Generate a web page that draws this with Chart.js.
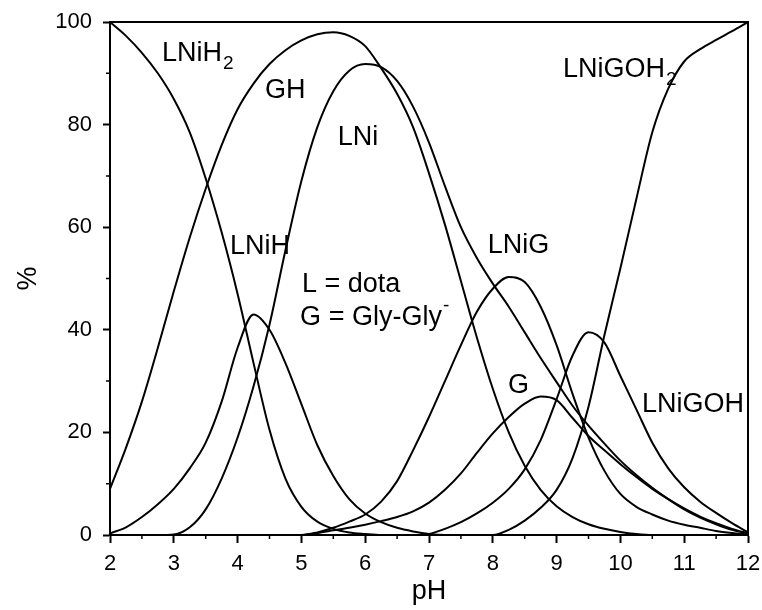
<!DOCTYPE html>
<html>
<head>
<meta charset="utf-8">
<script src="https://cdn.jsdelivr.net/npm/chart.js@4.4.1/dist/chart.umd.min.js"></script>
<style>
html, body { margin: 0; padding: 0; background: #fff; }
</style>
</head>
<body>
<canvas id="speciation" width="762" height="610"></canvas>
<script>
const FONT = "'Liberation Sans', Arial, Helvetica, sans-serif";

// pH grid the curves were read on
const pH = [2.0, 2.25, 2.5, 2.75, 3.0, 3.25, 3.5, 3.75, 4.0, 4.25, 4.5, 4.75, 5.0, 5.25, 5.5, 5.75,
            6.0, 6.25, 6.5, 6.75, 7.0, 7.25, 7.5, 7.75, 8.0, 8.25, 8.5, 8.75, 9.0, 9.25, 9.5, 9.75,
            10.0, 10.25, 10.5, 10.75, 11.0, 11.25, 11.5, 11.75, 12.0];

// % of each species
const LNiH2 = [100, 97.3, 94, 90, 85, 78.5, 69.5, 59, 47, 33.5, 20.5, 11, 5.5, 2.6, 1.2, 0.5,
               0.2, 0, 0, 0, 0, 0, 0, 0, 0, 0, 0, 0, 0, 0, 0, 0,
               0, 0, 0, 0, 0, 0, 0, 0, 0];
const GH = [9, 17, 26, 36.5, 47.5, 58, 67.5, 76, 83, 88, 91.8, 94.5, 96.4, 97.6, 98, 97.3,
            95.3, 91, 86, 79.5, 70.5, 60.5, 49.5, 38.5, 28.5, 20, 13.5, 8.8, 5.6, 3.5, 2.1, 1.2,
            0.6, 0.2, 0, 0, 0, 0, 0, 0, 0];
const LNi = [0, 0, 0, 0, 0.1, 1.5, 5, 11, 19, 29, 41, 55.5, 69, 79.5, 86.5, 90.5,
             91.8, 91.2, 88.5, 83.5, 76.5, 68, 60, 54, 49, 44.5, 39.5, 34.5, 29.8, 25.2, 21.3, 17.8,
             14.5, 11.7, 9.2, 7, 5, 3.4, 2.1, 1.0, 0.3];
const LNiH = [0.3, 1.5, 3.5, 6, 9, 13, 18, 26, 36.5, 43, 40, 33.5, 25.5, 17.5, 11.5, 7,
              4.2, 2.5, 1.4, 0.7, 0.2, 0, 0, 0, 0, 0, 0, 0, 0, 0, 0, 0,
              0, 0, 0, 0, 0, 0, 0, 0, 0];
const LNiG = [0, 0, 0, 0, 0, 0, 0, 0, 0, 0, 0, 0, 0, 0.5, 1.4, 2.6,
              4.0, 6.5, 10.5, 16.5, 23, 30, 37, 43.5, 48, 50.3, 49.3, 44.5, 37, 27.5, 19, 12.5,
              8, 5.5, 4, 2.8, 2, 1.4, 0.8, 0.4, 0.1];
const G = [0, 0, 0, 0, 0, 0, 0, 0, 0, 0, 0, 0, 0, 0.4, 0.9, 1.4,
           2.0, 2.7, 3.5, 4.6, 6.3, 8.8, 12, 16, 19.8, 23, 25.6, 27, 26.3, 22.8, 19.3, 16.5,
           13.8, 11.3, 9, 7, 5.2, 3.6, 2.3, 1.2, 0.3];
const LNiGOH = [0, 0, 0, 0, 0, 0, 0, 0, 0, 0, 0, 0, 0, 0, 0, 0,
                0, 0, 0, 0, 0.2, 1.2, 2.5, 4.2, 6.3, 9, 12.8, 18.5, 26.5, 35, 39.5, 37.5,
                31, 24.5, 18, 13, 9.3, 6.5, 4.3, 2.3, 0.5];
const LNiGOH2 = [0, 0, 0, 0, 0, 0, 0, 0, 0, 0, 0, 0, 0, 0, 0, 0,
                 0, 0, 0, 0, 0, 0, 0, 0, 0, 1, 2.8, 5.3, 8.8, 15, 25, 39,
                 52, 65.5, 78.5, 87, 92.3, 94.7, 96.5, 98.2, 100];

const series = [LNiH2, GH, LNi, LNiH, LNiG, G, LNiGOH, LNiGOH2];

// curve labels, anchored in data units (left edge, baseline)
const curveLabels = [
    { text: 'LNiH', sub: '2', x: 2.815, y: 92.4 },
    { text: 'GH', x: 4.43, y: 85.2 },
    { text: 'LNi', x: 5.57, y: 76.0 },
    { text: 'LNiH', x: 3.88, y: 54.8 },
    { text: 'L = dota', x: 5.01, y: 47.4 },
    { text: 'G = Gly-Gly', sup: '-', x: 4.98, y: 40.9 },
    { text: 'LNiG', x: 7.92, y: 55.0 },
    { text: 'G', x: 8.24, y: 27.7 },
    { text: 'LNiGOH', x: 10.34, y: 24.0 },
    { text: 'LNiGOH', sub: '2', x: 9.10, y: 89.3 }
];

const toPoints = ys => ys.map((v, i) => ({ x: pH[i], y: v }));

// minor ticks, frame and curve labels
const extras = {
    id: 'extras',
    afterDatasetsDraw(chart) {
        const ctx = chart.ctx;
        const a = chart.chartArea;
        const xs = chart.scales.x, ys = chart.scales.y;
        ctx.save();
        ctx.strokeStyle = '#000';
        ctx.lineWidth = 2;
        ctx.beginPath();
        ctx.moveTo(a.left, a.top);
        ctx.lineTo(a.right, a.top);
        ctx.lineTo(a.right, a.bottom);
        ctx.stroke();

        ctx.lineWidth = 1.5;
        ctx.beginPath();
        for (let v = 2.5; v < 12; v += 1) {
            const px = xs.getPixelForValue(v);
            ctx.moveTo(px, a.bottom);
            ctx.lineTo(px, a.bottom + 4);
        }
        for (let v = 10; v < 100; v += 20) {
            const py = ys.getPixelForValue(v);
            ctx.moveTo(a.left, py);
            ctx.lineTo(a.left - 4, py);
        }
        ctx.stroke();

        ctx.fillStyle = '#000';
        ctx.textBaseline = 'alphabetic';
        ctx.textAlign = 'left';
        curveLabels.forEach(l => {
            const px = xs.getPixelForValue(l.x);
            const py = ys.getPixelForValue(l.y);
            ctx.font = '27px ' + FONT;
            ctx.fillText(l.text, px, py);
            const w = ctx.measureText(l.text).width;
            ctx.font = '19px ' + FONT;
            if (l.sub) ctx.fillText(l.sub, px + w + 1, py + 8);
            if (l.sup) ctx.fillText(l.sup, px + w + 1, py - 14);
        });
        ctx.restore();
    }
};

new Chart(document.getElementById('speciation'), {
    type: 'scatter',
    data: {
        datasets: series.map(s => ({
            data: toPoints(s),
            showLine: true,
            borderColor: '#000',
            borderWidth: 2,
            pointRadius: 0,
            cubicInterpolationMode: 'monotone',
            fill: false
        }))
    },
    options: {
        responsive: false,
        animation: false,
        devicePixelRatio: 1,
        layout: { padding: { left: 0, top: 22, right: 14, bottom: 0 } },
        plugins: { legend: { display: false }, tooltip: { enabled: false } },
        scales: {
            x: {
                type: 'linear',
                min: 2,
                max: 12,
                afterFit: s => { s.height = 75; s.paddingLeft = 0; s.paddingRight = 0; },
                ticks: { stepSize: 1, color: '#000', padding: 8, font: { family: FONT, size: 22 } },
                grid: { drawOnChartArea: false, drawTicks: true, tickLength: 8, tickWidth: 2, tickColor: '#000' },
                border: { display: true, color: '#000', width: 2 },
                title: { display: true, text: 'pH', color: '#000', font: { family: FONT, size: 27 }, padding: { top: 0, bottom: 2 } }
            },
            y: {
                min: 0,
                max: 100,
                afterFit: s => { s.width = 110; s.paddingTop = 0; s.paddingBottom = 0; },
                ticks: { stepSize: 20, color: '#000', padding: 11, font: { family: FONT, size: 22 } },
                grid: { drawOnChartArea: false, drawTicks: true, tickLength: 7, tickWidth: 2, tickColor: '#000' },
                border: { display: true, color: '#000', width: 2 },
                title: { display: true, text: '%', color: '#000', font: { family: FONT, size: 27 }, padding: { top: 12, bottom: 0 } }
            }
        }
    },
    plugins: [extras]
});
</script>
</body>
</html>
